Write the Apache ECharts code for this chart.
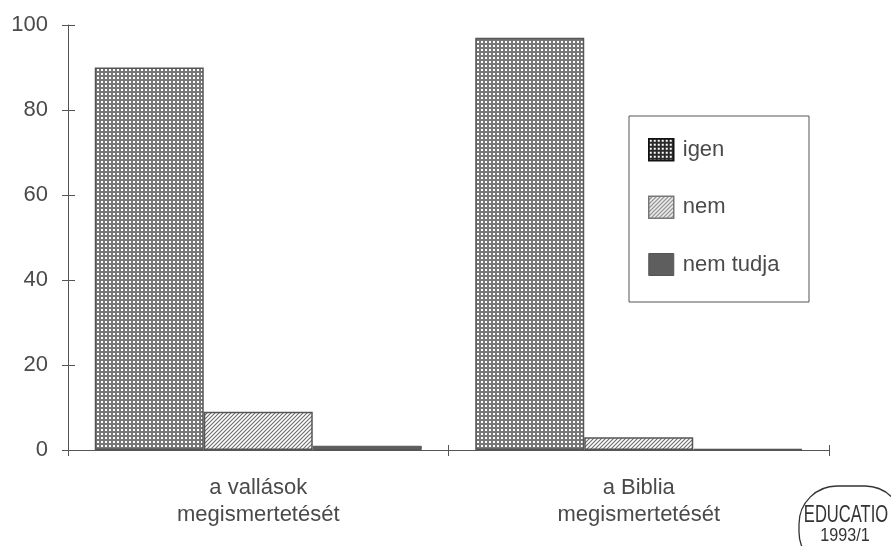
<!DOCTYPE html>
<html>
<head>
<meta charset="utf-8">
<script src="https://cdn.jsdelivr.net/npm/echarts@6/dist/echarts.min.js"></script>
<style>
  html, body { margin: 0; padding: 0; background: #fff; }
  #chart { width: 891px; height: 546px; }
</style>
</head>
<body>
<div id="chart"></div>
<script>
// ---- data ----
const categories = ['a vallások\nmegismertetését', 'a Biblia\nmegismertetését'];
const seriesNames = ['igen', 'nem', 'nem tudja'];
const igenValues = [90, 97];
const nemValues = [9, 3];
const nemTudjaValues = [1, 0.3];
const yMin = 0, yMax = 100, yStep = 20;
const stampLines = ['EDUCATIO', '1993/1'];

// ---- patterns ----
function gridPattern(lineColor) {
  const c = document.createElement('canvas');
  c.width = 4; c.height = 4;
  const ctx = c.getContext('2d');
  ctx.fillStyle = lineColor; ctx.fillRect(0, 0, 4, 4);
  ctx.fillStyle = '#ffffff'; ctx.fillRect(1, 1, 2, 2);
  return { image: c, repeat: 'repeat' };
}
function hatchPattern(lineColor) {
  const s = 4;
  const c = document.createElement('canvas');
  c.width = s; c.height = s;
  const ctx = c.getContext('2d');
  ctx.fillStyle = '#ffffff'; ctx.fillRect(0, 0, s, s);
  ctx.strokeStyle = lineColor; ctx.lineWidth = 1.1;
  ctx.beginPath();
  ctx.moveTo(0, s); ctx.lineTo(s, 0);
  ctx.moveTo(-1, 1); ctx.lineTo(1, -1);
  ctx.moveTo(s - 1, s + 1); ctx.lineTo(s + 1, s - 1);
  ctx.stroke();
  return { image: c, repeat: 'repeat' };
}

const igenFill = gridPattern('#777777');
const igenLegendFill = gridPattern('#2a2a2a');
const nemFill = hatchPattern('#6a6a6a');
const nemTudjaFill = '#5e5e5e';

const font = 'Liberation Sans, Arial, sans-serif';
const textColor = '#4a4a4a';
const axisColor = '#555555';

const chart = echarts.init(document.getElementById('chart'), null, { renderer: 'canvas' });

chart.setOption({
  animation: false,
  backgroundColor: '#ffffff',
  grid: { left: 68, right: 62, top: 25, bottom: 96 },
  xAxis: [
    {
      type: 'category',
      data: categories,
      axisLine: { show: true, lineStyle: { color: axisColor, width: 1 } },
      axisTick: { show: true, length: 6, lineStyle: { color: axisColor } },
      axisLabel: { color: textColor, fontSize: 22, fontFamily: font, lineHeight: 27, margin: 24 },
      splitLine: { show: false }
    },
    {
      type: 'category',
      data: categories,
      position: 'bottom',
      axisLine: { show: false },
      axisTick: { show: true, inside: true, length: 5, lineStyle: { color: axisColor } },
      axisLabel: { show: false },
      splitLine: { show: false }
    }
  ],
  yAxis: [
    {
      type: 'value',
      min: yMin, max: yMax, interval: yStep,
      axisLine: { show: true, lineStyle: { color: axisColor, width: 1 } },
      axisTick: { show: true, length: 6, lineStyle: { color: axisColor } },
      axisLabel: { color: textColor, fontSize: 22, fontFamily: font, margin: 20 },
      splitLine: { show: false }
    },
    {
      type: 'value',
      position: 'left',
      min: yMin, max: yMax, interval: yStep,
      axisLine: { show: false },
      axisTick: { show: true, inside: true, length: 7, lineStyle: { color: axisColor } },
      axisLabel: { show: false },
      splitLine: { show: false }
    }
  ],
  legend: {
    orient: 'vertical',
    left: 648,
    top: 138,
    padding: 0,
    itemWidth: 25,
    itemHeight: 22,
    itemGap: 34,
    selectedMode: false,
    textStyle: { color: textColor, fontSize: 22, fontFamily: font, padding: [0, 0, 0, 4] },
    data: [
      { name: seriesNames[0], icon: 'rect', itemStyle: { color: igenLegendFill, borderColor: '#111', borderWidth: 1.5 } },
      { name: seriesNames[1], icon: 'rect', itemStyle: { color: nemFill, borderColor: '#777', borderWidth: 1.5 } },
      { name: seriesNames[2], icon: 'rect', itemStyle: { color: nemTudjaFill, borderColor: '#555', borderWidth: 1 } }
    ]
  },
  graphic: [
    {
      type: 'rect',
      shape: { x: 629, y: 116, width: 180, height: 186 },
      style: { fill: 'transparent', stroke: '#555', lineWidth: 1 },
      silent: true
    },
    {
      type: 'rect',
      shape: { x: 799, y: 486, width: 104, height: 84, r: 38 },
      style: { fill: 'transparent', stroke: '#333', lineWidth: 1.3 },
      silent: true
    },
    {
      type: 'text',
      x: 846, y: 516, scaleX: 0.72,
      style: { text: stampLines[0], fill: '#333', font: '23px Liberation Sans, Arial, sans-serif', textAlign: 'center', textVerticalAlign: 'middle' },
      silent: true
    },
    {
      type: 'text',
      x: 845, y: 536, scaleX: 0.85,
      style: { text: stampLines[1], fill: '#333', font: '19px Liberation Sans, Arial, sans-serif', textAlign: 'center', textVerticalAlign: 'middle' },
      silent: true
    }
  ],
  series: [
    {
      name: seriesNames[0], type: 'bar', data: igenValues,
      barWidth: 109, barGap: '0%',
      itemStyle: { color: igenFill, borderColor: '#555', borderWidth: 1.5 }
    },
    {
      name: seriesNames[1], type: 'bar', data: nemValues,
      barWidth: 109, barGap: '0%',
      itemStyle: { color: nemFill, borderColor: '#555', borderWidth: 1.5 }
    },
    {
      name: seriesNames[2], type: 'bar', data: nemTudjaValues,
      barWidth: 109, barGap: '0%',
      itemStyle: { color: nemTudjaFill, borderColor: '#555', borderWidth: 1 }
    }
  ]
});
</script>
</body>
</html>
